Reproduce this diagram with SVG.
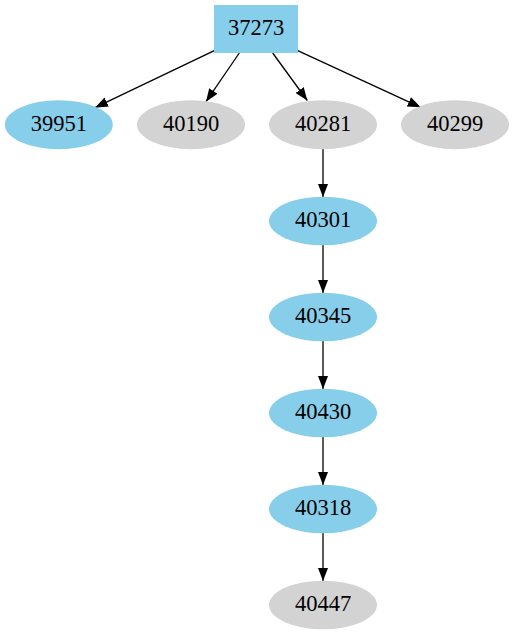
<svg xmlns="http://www.w3.org/2000/svg" width="514" height="635" viewBox="0 0 514 635">
<style>
.t{font-family:"Liberation Serif","Times New Roman",serif;font-size:22.5px;text-anchor:middle;fill:#000}
.b{fill:#87CEEB}
.g{fill:#D3D3D3}
.e{stroke:#000;stroke-width:1.3;fill:none;marker-end:url(#ah)}
</style>
<defs>
<marker id="ah" markerUnits="userSpaceOnUse" markerWidth="14" markerHeight="11" refX="13" refY="5" orient="auto" viewBox="0 0 14 10">
<path d="M0,0 L13,5 L0,10 z" fill="#000"/>
</marker>
</defs>
<rect width="514" height="635" fill="#fff"/>
<g id="connectors">
<line class="e" x1="214.3" y1="50.7" x2="95" y2="107.7"/>
<line class="e" x1="239.3" y1="53" x2="206" y2="101.7"/>
<line class="e" x1="272.7" y1="53" x2="307.3" y2="100.5"/>
<line class="e" x1="297.7" y1="50.7" x2="420.7" y2="107.3"/>
<line class="e" x1="323" y1="149" x2="323" y2="197"/>
<line class="e" x1="323" y1="245" x2="323" y2="293"/>
<line class="e" x1="323" y1="341" x2="323" y2="389"/>
<line class="e" x1="323" y1="437" x2="323" y2="485"/>
<line class="e" x1="323" y1="533" x2="323" y2="581"/>
</g>
<g id="n37273"><rect class="b" x="214" y="5" width="84" height="48"/><text class="t" x="256" y="34.5">37273</text></g>
<g id="n39951"><ellipse class="b" cx="58.8" cy="124.7" rx="54" ry="24.5"/><text class="t" x="58.8" y="130.8">39951</text></g>
<g id="n40190"><ellipse class="g" cx="191" cy="124.7" rx="54" ry="24.5"/><text class="t" x="191" y="130.8">40190</text></g>
<g id="n40281"><ellipse class="g" cx="323" cy="124.7" rx="54" ry="24.5"/><text class="t" x="323" y="130.8">40281</text></g>
<g id="n40299"><ellipse class="g" cx="455" cy="124.7" rx="54" ry="24.5"/><text class="t" x="455" y="130.8">40299</text></g>
<g id="n40301"><ellipse class="b" cx="323" cy="221" rx="54" ry="24.3"/><text class="t" x="323" y="227.1">40301</text></g>
<g id="n40345"><ellipse class="b" cx="323" cy="317" rx="54" ry="24.3"/><text class="t" x="323" y="323.1">40345</text></g>
<g id="n40430"><ellipse class="b" cx="323" cy="413" rx="54" ry="24.3"/><text class="t" x="323" y="419.1">40430</text></g>
<g id="n40318"><ellipse class="b" cx="323" cy="509" rx="54" ry="24.3"/><text class="t" x="323" y="515.1">40318</text></g>
<g id="n40447"><ellipse class="g" cx="323" cy="605" rx="54" ry="24.3"/><text class="t" x="323" y="611.1">40447</text></g>
</svg>
